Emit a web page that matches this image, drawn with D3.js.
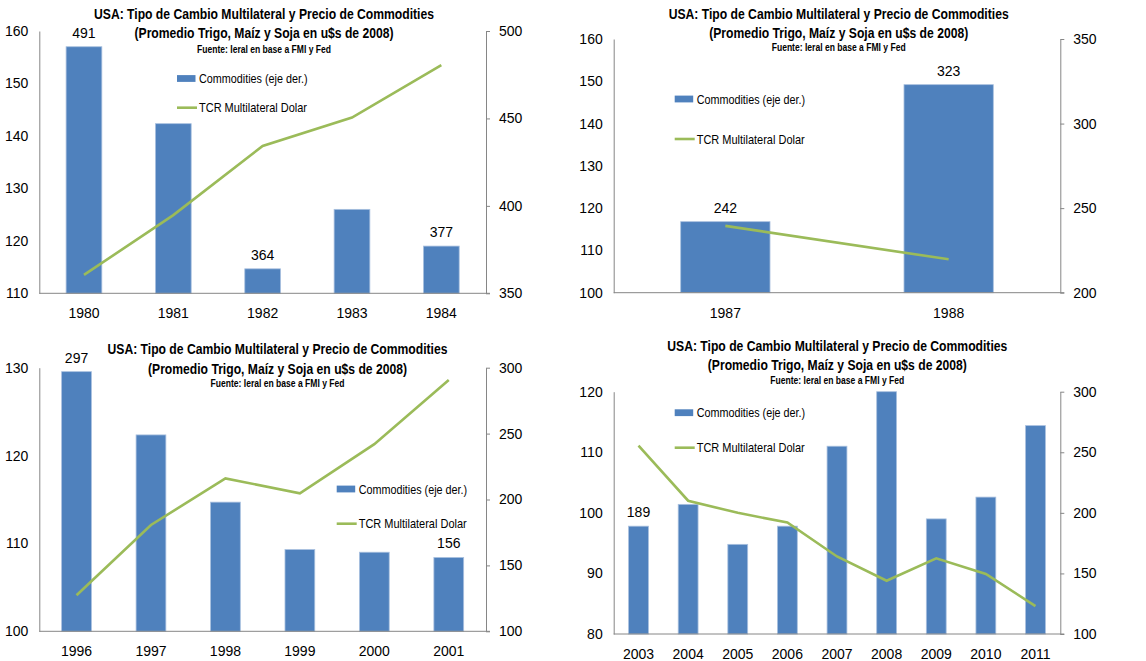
<!DOCTYPE html>
<html>
<head>
<meta charset="utf-8">
<script src="https://cdn.jsdelivr.net/npm/d3@7"></script>
<style>
  body { margin: 0; background: #fff; }
  text { font-family: "Liberation Sans Narrow", "Liberation Sans", sans-serif; fill: #000; }
</style>
</head>
<body>
<div id="chart"></div>
<script>
// data
const years1 = ["1980", "1981", "1982", "1983", "1984"];
const commod1 = [491, 447, 364, 398, 377];
const tcr1 = [113.5, 124.9, 138.1, 143.5, 153.5];
const leftTicks1 = [110, 120, 130, 140, 150, 160];
const rightTicks1 = [350, 400, 450, 500];
const labelIdx1 = [0, 2, 4];

const years2 = ["1987", "1988"];
const commod2 = [242, 323];
const tcr2 = [115.8, 107.9];
const leftTicks2 = [100, 110, 120, 130, 140, 150, 160];
const rightTicks2 = [200, 250, 300, 350];
const labelIdx2 = [0, 1];

const years3 = ["1996", "1997", "1998", "1999", "2000", "2001"];
const commod3 = [297, 249, 198, 162, 160, 156];
const tcr3 = [104.1, 112.1, 117.4, 115.7, 121.3, 128.6];
const leftTicks3 = [100, 110, 120, 130];
const rightTicks3 = [100, 150, 200, 250, 300];
const labelIdx3 = [0, 5];

const years4 = ["2003", "2004", "2005", "2006", "2007", "2008", "2009", "2010", "2011"];
const commod4 = [189, 207, 174, 189, 255, 300, 195, 213, 272];
const tcr4 = [111.1, 102, 100, 98.4, 92.8, 88.8, 92.5, 89.9, 84.6];
const leftTicks4 = [80, 90, 100, 110, 120];
const rightTicks4 = [100, 150, 200, 250, 300];
const labelIdx4 = [0];

const titleLines = [
    "USA: Tipo de Cambio Multilateral y Precio de Commodities",
    "(Promedio Trigo, Maíz y Soja en u$s de 2008)",
    "Fuente: Ieral en base  a FMI  y Fed"
];
const barName = "Commodities (eje der.)";
const lineName = "TCR Multilateral Dolar";

const barColor = "#4F81BD";
const barEdge = "#A9C0DF";
const lineColor = "#9BBB59";
const axisColor = "#868686";

const width = 1146, height = 661;

const svg = d3.create("svg")
    .attr("width", width)
    .attr("height", height);

// layout of each panel (pixels)
const panels = [
    { cats: years1, bars: commod1, line: tcr1, lt: leftTicks1, rt: rightTicks1, lab: labelIdx1,
      box: { x0: 39.3, x1: 486, top: 31, bot: 293.3 },
      title: { cx: 264, y: [14, 33, 49] }, legend: { x: 177, yBar: 78.5, yLine: 107.7 } },
    { cats: years2, bars: commod2, line: tcr2, lt: leftTicks2, rt: rightTicks2, lab: labelIdx2,
      box: { x0: 613.7, x1: 1060.3, top: 39, bot: 292.7 },
      title: { cx: 838.7, y: [13.3, 32.3, 47.7] }, legend: { x: 674.7, yBar: 99, yLine: 139 } },
    { cats: years3, bars: commod3, line: tcr3, lt: leftTicks3, rt: rightTicks3, lab: labelIdx3,
      box: { x0: 39.3, x1: 486, top: 367.7, bot: 631.3 },
      title: { cx: 277.5, y: [349, 368.3, 383.7] }, legend: { x: 336.7, yBar: 489, yLine: 523.7 } },
    { cats: years4, bars: commod4, line: tcr4, lt: leftTicks4, rt: rightTicks4, lab: labelIdx4,
      box: { x0: 613.7, x1: 1060.3, top: 391.7, bot: 634 },
      title: { cx: 837.3, y: [346, 364.7, 380.7] }, legend: { x: 674.7, yBar: 412.7, yLine: 447.7 } }
];

const drawPanel = function(p) {
    const g = svg.append("g");
    const b = p.box;

    const x = d3.scaleBand()
        .domain(p.cats)
        .range([b.x0, b.x1])
        .paddingInner(0.6)
        .paddingOuter(0.3);
    const yL = d3.scaleLinear().domain(d3.extent(p.lt)).range([b.bot, b.top]);
    const yR = d3.scaleLinear().domain(d3.extent(p.rt)).range([b.bot, b.top]);

    // bars (right axis)
    g.selectAll(".bar")
        .data(p.cats)
        .enter().append("rect")
        .attr("class", "bar")
        .attr("x", d => x(d))
        .attr("width", x.bandwidth())
        .attr("y", (d, i) => yR(p.bars[i]))
        .attr("height", (d, i) => b.bot - yR(p.bars[i]))
        .attr("fill", barColor)
        .attr("stroke", barEdge)
        .attr("stroke-width", 0.8);

    // axes
    const left = g.append("g")
        .attr("transform", `translate(${b.x0},0)`)
        .call(d3.axisLeft(yL).tickValues(p.lt).tickSize(0).tickPadding(11));
    const right = g.append("g")
        .attr("transform", `translate(${b.x1},0)`)
        .call(d3.axisRight(yR).tickValues(p.rt).tickSizeInner(4).tickSizeOuter(0).tickPadding(9));
    const bottom = g.append("g")
        .attr("transform", `translate(0,${b.bot})`)
        .call(d3.axisBottom(x).tickSize(0).tickPadding(15));
    bottom.select(".domain").attr("d", `M${b.x0},0H${b.x1 + 4}`);

    [left, right, bottom].forEach(a => {
        a.select(".domain").attr("stroke", axisColor);
        a.selectAll(".tick line").attr("stroke", axisColor);
        a.selectAll("text")
            .attr("font-family", "'Liberation Sans Narrow', sans-serif")
            .attr("font-size", 14)
            .attr("fill", "#000");
    });

    // TCR line (left axis)
    const line = d3.line()
        .x((d, i) => x(p.cats[i]) + x.bandwidth() / 2)
        .y(d => yL(d));
    g.append("path")
        .datum(p.line)
        .attr("d", line)
        .attr("fill", "none")
        .attr("stroke", lineColor)
        .attr("stroke-width", 2.6);

    // value labels
    g.selectAll(".val")
        .data(p.lab)
        .enter().append("text")
        .attr("class", "val")
        .attr("x", i => x(p.cats[i]) + x.bandwidth() / 2)
        .attr("y", i => yR(p.bars[i]) - 14)
        .attr("dy", "0.35em")
        .attr("text-anchor", "middle")
        .attr("font-size", 14)
        .text(i => p.bars[i]);

    // titles
    const tSizes = [15.5, 15.5, 10];
    const tLens = [340, 259, 134];
    titleLines.forEach((t, i) => {
        g.append("text")
            .attr("x", p.title.cx)
            .attr("y", p.title.y[i])
            .attr("dy", "0.35em")
            .attr("text-anchor", "middle")
            .attr("font-weight", "bold")
            .attr("font-size", tSizes[i])
            .attr("textLength", tLens[i])
            .attr("lengthAdjust", "spacingAndGlyphs")
            .text(t);
    });

    // legend
    const lg = p.legend;
    g.append("rect")
        .attr("x", lg.x).attr("y", lg.yBar - 3.4)
        .attr("width", 18.5).attr("height", 6.8)
        .attr("fill", barColor);
    g.append("text")
        .attr("x", lg.x + 22).attr("y", lg.yBar)
        .attr("dy", "0.35em")
        .attr("font-size", 13.5)
        .attr("textLength", 108.5)
        .attr("lengthAdjust", "spacingAndGlyphs")
        .text(barName);
    g.append("line")
        .attr("x1", lg.x).attr("x2", lg.x + 20)
        .attr("y1", lg.yLine).attr("y2", lg.yLine)
        .attr("stroke", lineColor)
        .attr("stroke-width", 2.6);
    g.append("text")
        .attr("x", lg.x + 22).attr("y", lg.yLine)
        .attr("dy", "0.35em")
        .attr("font-size", 13.5)
        .attr("textLength", 108)
        .attr("lengthAdjust", "spacingAndGlyphs")
        .text(lineName);
};

panels.forEach(drawPanel);

document.getElementById("chart").appendChild(svg.node());
</script>
</body>
</html>
